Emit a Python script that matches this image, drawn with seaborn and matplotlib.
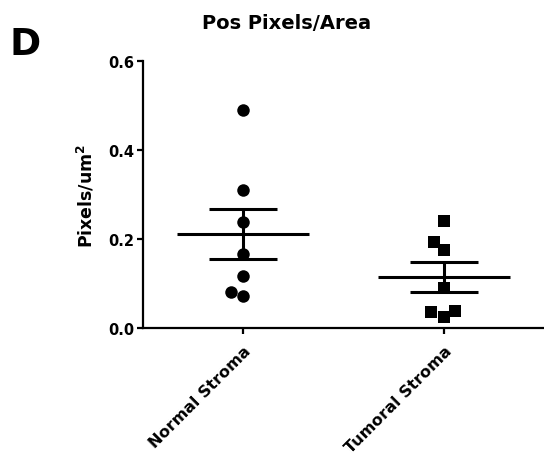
import numpy as np
import pandas as pd
import matplotlib
matplotlib.use("Agg")
import matplotlib.pyplot as plt
import seaborn as sns

groups = ["Normal Stroma", "Tumoral Stroma"]
normal_values = [0.491, 0.310, 0.239, 0.167, 0.118, 0.082, 0.071]
tumoral_values = [0.241, 0.194, 0.175, 0.091, 0.039, 0.035, 0.025]
markers = ["o", "s"]
y_ticks = [0.0, 0.2, 0.4, 0.6]

df = pd.DataFrame({
    "group": [groups[0]] * len(normal_values) + [groups[1]] * len(tumoral_values),
    "value": normal_values + tumoral_values,
})

sns.set_theme(style="ticks", rc={"text.color": "black", "axes.labelcolor": "black",
                                 "xtick.color": "black", "ytick.color": "black",
                                 "axes.edgecolor": "black"})
plt.rcParams["font.family"] = ["DejaVu Sans"]
plt.rcParams["font.weight"] = "bold"

fig = plt.figure(figsize=(5.44, 4.64), dpi=100)
ax = fig.add_axes([0.2629, 0.2909, 0.7371, 0.5754])

for g, m in zip(groups, markers):
    sns.swarmplot(data=df[df["group"] == g], x="group", y="value", order=groups,
                  marker=m, color="black", size=9, ax=ax, linewidth=0)

stats = df.groupby("group")["value"].agg(["mean", "sem"]).reindex(groups)
pos = np.arange(len(groups))
ax.hlines(stats["mean"], pos - 0.33, pos + 0.33, color="black", linewidth=2.2, zorder=3)
ax.errorbar(pos, stats["mean"], yerr=stats["sem"], fmt="none", ecolor="black",
            elinewidth=2.2, capsize=24.5, capthick=2.2, zorder=3)

ax.set_xlim(-0.5, 1.5)
ax.set_ylim(0, 0.6)
ax.set_yticks(y_ticks)
ax.set_yticklabels([f"{t:.1f}" for t in y_ticks], fontsize=10.5, fontweight="bold")
ax.set_xticks(pos)
ax.set_xticklabels(groups, rotation=45, ha="right", rotation_mode="anchor",
                   fontsize=11.5, fontweight="bold")
ax.tick_params(axis="x", pad=7)
ax.set_xlabel("")
ax.set_ylabel("Pixels/um$^\\mathbf{2}$", fontsize=12.5, fontweight="bold", labelpad=9)
for s in ["top", "right"]:
    ax.spines[s].set_visible(False)
for s in ["left", "bottom"]:
    ax.spines[s].set_linewidth(1.6)
ax.tick_params(axis="both", length=4, width=1.6, color="black")
ax.tick_params(axis="y", pad=2)

fig.text(0.526, 0.95, "Pos Pixels/Area", ha="center", va="center",
         fontsize=14, fontweight="bold")
fig.text(0.018, 0.902, "D", ha="left", va="center", fontsize=27, fontweight="bold")

fig.savefig("out.png", dpi=100)
